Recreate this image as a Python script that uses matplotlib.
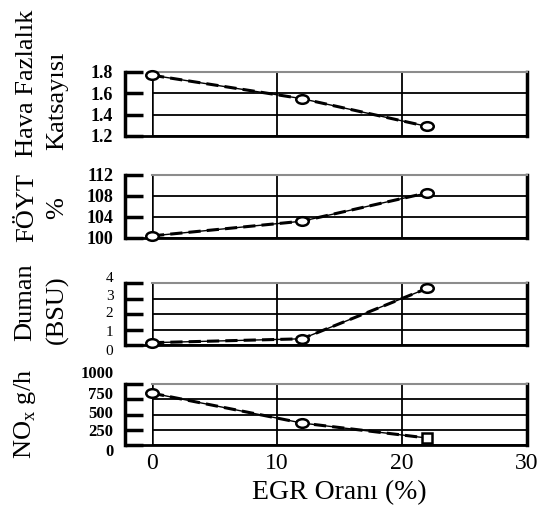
import matplotlib.pyplot as plt
from matplotlib.path import Path
from matplotlib.transforms import Affine2D, ScaledTranslation

plt.rcParams['font.family'] = ['Liberation Serif', 'DejaVu Serif']

# EGR orani (%) ve olculen degerler
egr = [0, 12, 22]
hava = [1.77, 1.55, 1.29]
foyt = [100.4, 103.2, 108.6]
duman = [0.15, 0.4, 3.65]
nox = [850, 360, 115]

hava_ticks = [1.2, 1.4, 1.6, 1.8]
foyt_ticks = [100, 104, 108, 112]
duman_ticks = [0, 1, 2, 3, 4]
nox_ticks = [0, 250, 500, 750, 1000]
x_ticks = [0, 10, 20, 30]

W, H = 539, 514
fig = plt.figure(figsize=(W / 100, H / 100), dpi=100)

# panel kutulari (piksel: ust, alt)
kutular = [(72, 136), (175, 238), (283, 345), (384, 445)]
left = 152 / W
width = 375 / W

seriler = [hava, foyt, duman, nox]
tickler = [hava_ticks, foyt_ticks, duman_ticks, nox_ticks]
etiketler = [['1.2', '1.4', '1.6', '1.8'],
             ['100', '104', '108', '112'],
             ['0', '1', '2', '3', '4'],
             ['0', '250', '500', '750', '1000']]
boyut = [13, 13, 11, 12]
# taranmis sekildeki etiket kaymalari (piksel, yukari +)
kayma = [None, None, [-5, -1, 2, 3, 6], [-5, 0, 3, 6, 12]]

elips = Path.unit_circle().transformed(Affine2D().scale(1.45, 1.0))

for i, (ust, alt) in enumerate(kutular):
    ax = fig.add_axes([left, 1 - alt / H, width, (alt - ust) / H])
    vals = seriler[i]
    t = tickler[i]

    # spine ayarlari once (set_position tickleri sifirliyor)
    ax.spines['left'].set_position(('data', -2.2))
    ax.spines['left'].set_linewidth(2.5)
    ax.spines['bottom'].set_bounds(-2.2, 30)
    ax.spines['bottom'].set_linewidth(2)
    ax.spines['right'].set_linewidth(2.5)
    ax.spines['top'].set_color('0.55')
    ax.spines['top'].set_linestyle((0, (1, 1)))
    ax.spines['top'].set_linewidth(1.5)

    ax.set_xlim(0, 30)
    ax.set_ylim(t[0], t[-1])
    ax.set_xticks(x_ticks)
    ax.set_yticks(t)
    agirlik = 'normal' if i == 2 else 'bold'
    ax.set_yticklabels(etiketler[i], fontsize=boyut[i], fontweight=agirlik)
    ax.tick_params(axis='y', direction='in', length=13, width=2.5, pad=8)
    ax.tick_params(axis='x', length=0)
    ax.grid(True, color='black', lw=1.3)
    ax.get_ygridlines()[-1].set_color('0.55')
    ax.get_xgridlines()[0].set_linewidth(1.8)

    if kayma[i] is not None:
        for lab, dy in zip(ax.get_yticklabels(), kayma[i]):
            lab.set_transform(lab.get_transform()
                              + ScaledTranslation(0, dy / 100, fig.dpi_scale_trans))

    ax.plot(egr, vals, color='black', lw=1, zorder=3)
    ax.plot(egr, vals, color='black', lw=2.2, ls=(0, (4, 2)), zorder=3)
    if i == 3:
        ax.plot(egr[:-1], vals[:-1], ls='none', marker=elips, ms=9, mfc='white',
                mec='black', mew=1.8, zorder=4, clip_on=False)
        ax.plot(egr[-1:], vals[-1:], ls='none', marker='s', ms=7, mfc='white',
                mec='black', mew=1.8, zorder=4, clip_on=False)
    else:
        ax.plot(egr, vals, ls='none', marker=elips, ms=9, mfc='white',
                mec='black', mew=1.8, zorder=4, clip_on=False)

    if i < 3:
        ax.tick_params(axis='x', labelbottom=False)
    else:
        ax.set_xticklabels([str(v) for v in x_ticks], fontsize=17)
        ax.tick_params(axis='x', pad=6)
        ax.set_xlabel('EGR Oranı (%)', fontsize=20, labelpad=4)


def ylab(x, y, s):
    fig.text(x / W, 1 - y / H, s, rotation=90, ha='center', va='center', fontsize=19)


ylab(27, 83, 'Hava Fazlalık')
ylab(57, 101, 'Katsayısı')
ylab(27, 207, 'FÖYT')
ylab(57, 208, '%')
ylab(25, 302, 'Duman')
ylab(57, 310, '(BSU)')
ylab(25, 414, 'NO$_\\mathregular{x}$ g/h')

plt.savefig('out.png', dpi=100)
